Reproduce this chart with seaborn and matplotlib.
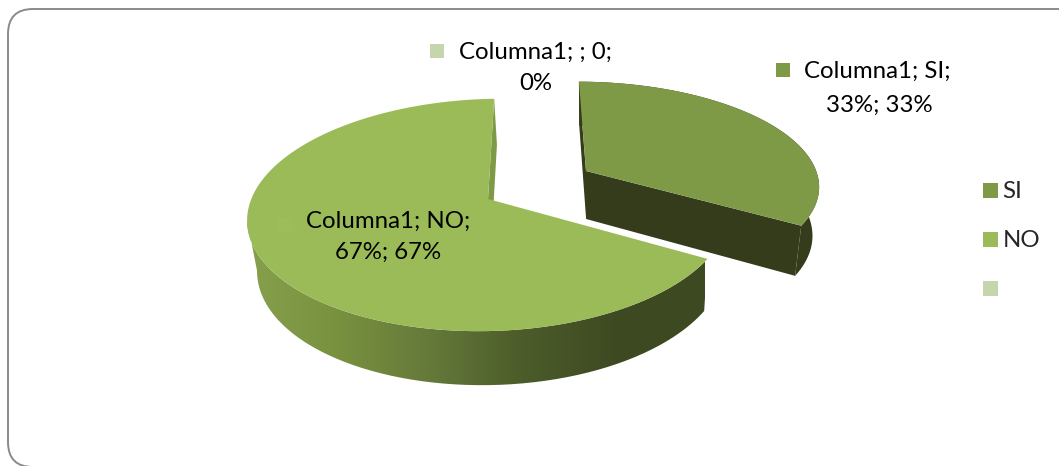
import numpy as np
import matplotlib

matplotlib.use('Agg')
import matplotlib.pyplot as plt
import seaborn as sns
from matplotlib.lines import Line2D
from matplotlib.patches import FancyBboxPatch, PathPatch
from matplotlib.path import Path

categories = ['SI', 'NO', '']
values = [33.3, 66.7, 0]
top_colors = ['#7f9a47', '#9bbb59', '#c6d6ac']
side_dark = '#343c1c'
side_stops = ['#86a04c', '#78913f', '#65793a', '#4c5c2a', '#3e4a22', '#3d4921']

# projection of each slice: centre x/y, radius x/y, perspective, skew, tilt, slab depth
views = [
    dict(cx=586, cy=171, ax=229, ay=100, k=0.12, skew=-16, tilt=-3, depth=48),
    dict(cx=488, cy=199, ax=239, ay=113.8, k=0.138, skew=-3, tilt=-7, depth=50),
]


def project(x, v, view, z=0):
    # unit pie coordinates to picture pixels, z=1 is the bottom of the slab
    d = 1 + view['k'] * v
    px = view['cx'] + view['ax'] * x / d + view['skew'] * v
    py = view['cy'] - view['ay'] * v / d + view['tilt'] * x
    px = px + z * 0.029 * (590 - px)
    py = py + z * (view['depth'] - 4 * v)
    return px, py


sns.set_theme(style='white')
plt.rcParams['font.family'] = ['Lato', 'DejaVu Sans']

fig = plt.figure(figsize=(10.59, 4.66), dpi=100)
ax = fig.add_axes([0, 0, 1, 1])

wedges, _ = ax.pie(values, startangle=87.5, counterclock=False, colors=top_colors)
ax.set_aspect('auto')

border = FancyBboxPatch((8, 9), 1120, 458, boxstyle='round,pad=0,rounding_size=25',
                        fc='white', ec='#8a8a8a', lw=1.4, zorder=0)
ax.add_patch(border)

side_cmap = sns.blend_palette(side_stops, as_cmap=True)

# NO goes first, the exploded SI slice sits above it
for i in [1, 0]:
    w = wedges[i]
    view = views[i]
    t = np.radians(np.linspace(w.theta1, w.theta2, 300))
    x, v = np.cos(t), np.sin(t)
    tx, ty = project(x, v, view)
    bx, by = project(x, v, view, z=1)
    color = top_colors[i]
    tip_x, tip_y = project(0.0, 0.0, view)

    if i == 1:
        # rim of the slab, only from the left edge round to the cut
        keep = np.arange(np.argmin(tx), len(t))
        sx = np.r_[tx[keep], bx[keep][::-1]]
        sy = np.r_[ty[keep], by[keep][::-1]]
        clip = PathPatch(Path(np.column_stack([sx, sy])), transform=ax.transData, fc='none', ec='none')
        ax.add_patch(clip)
        img = ax.imshow(np.linspace(0, 1, 256).reshape(1, -1), cmap=side_cmap, aspect='auto',
                        extent=(247, 705, 400, 200), zorder=1)
        img.set_clip_path(clip)
        # the cut face behind the tip
        cx1, cy1 = project(np.array([x[0], 0]), np.array([v[0], 0]), view, z=1)
        ax.fill(np.r_[tx[0], tip_x, cx1[::-1]], np.r_[ty[0], tip_y, cy1[::-1]],
                color='#7f9a47', zorder=1, lw=0)
    else:
        ax.fill(np.r_[tx, bx[::-1]], np.r_[ty, by[::-1]], color=side_dark, zorder=3, lw=0)
        # both cut faces
        cx0, cy0 = project(np.array([x[0], 0, x[-1]]), np.array([v[0], 0, v[-1]]), view)
        cx1, cy1 = project(np.array([x[0], 0, x[-1]]), np.array([v[0], 0, v[-1]]), view, z=1)
        ax.fill(np.r_[cx0, cx1[::-1]], np.r_[cy0, cy1[::-1]], color=side_dark, zorder=3, lw=0)

    zo = 2 if i == 1 else 4
    ax.fill(np.r_[tx, tip_x], np.r_[ty, tip_y], color=color, zorder=zo, lw=0)
    w.remove()

# data labels with their little keys
label_font = dict(fontsize=17.3, color='black', va='center', zorder=6)
ax.scatter([437, 783, 285], [51, 70, 225], marker='s', s=115, lw=0, zorder=5,
           color=[top_colors[2], top_colors[0], '#9dbc5c'])
ax.text(459, 52, 'Columna1; ; 0;', ha='left', **label_font)
ax.text(536, 84, '0%', ha='center', **label_font)
ax.text(804, 71, 'Columna1; SI;', ha='left', **label_font)
ax.text(879, 105, '33%; 33%', ha='center', **label_font)
ax.text(388, 221, 'Columna1; NO;', ha='center', **label_font)
ax.text(388, 252, '67%; 67%', ha='center', **label_font)

handles = [Line2D([], [], ls='none', marker='s', ms=10.8, mew=0, color=c) for c in top_colors]
ax.legend(handles, categories, loc='upper left', bbox_to_anchor=(978, 181),
          bbox_transform=ax.transData, frameon=False, fontsize=17.3, labelspacing=1.17,
          handlelength=1.0, handletextpad=0.02, borderpad=0, borderaxespad=0)

ax.set_xlim(0, 1059)
ax.set_ylim(466, 0)
ax.axis('off')

plt.savefig('out.png', dpi=100)
plt.close()
